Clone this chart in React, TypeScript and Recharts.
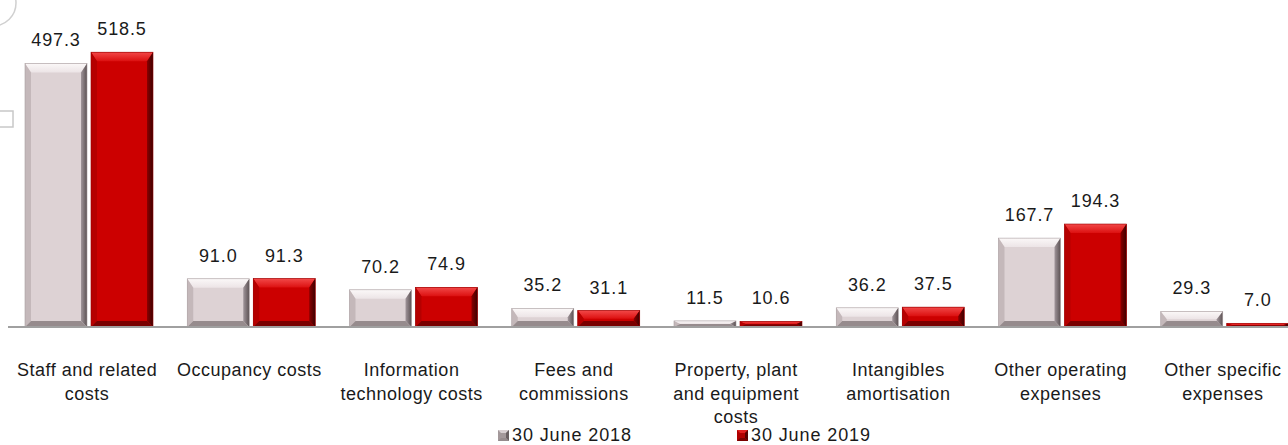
import { Bar, BarChart, LabelList, XAxis, YAxis } from 'recharts'

const categories = [
  'Staff and related\ncosts',
  'Occupancy costs',
  'Information\ntechnology costs',
  'Fees and\ncommissions',
  'Property, plant\nand equipment\ncosts',
  'Intangibles\namortisation',
  'Other operating\nexpenses',
  'Other specific\nexpenses',
]
const june2018 = [497.3, 91.0, 70.2, 35.2, 11.5, 36.2, 167.7, 29.3]
const june2019 = [518.5, 91.3, 74.9, 31.1, 10.6, 37.5, 194.3, 7.0]
const seriesNames = ['30 June 2018', '30 June 2019']

const chartData = categories.map((name, i) => ({
  name,
  a: june2018[i],
  b: june2019[i],
}))

const FONT = '"Liberation Sans", Arial, sans-serif'

const TONES = {
  gray: {
    body: '#ddd2d4',
    top: 'url(#grayTop)',
    left: '#c4b8ba',
    right: 'url(#grayRight)',
    bottom: '#968b8d',
    edge: '#a99ea0',
  },
  red: {
    body: '#cc0000',
    top: 'url(#redTop)',
    left: '#b50000',
    right: 'url(#redRight)',
    bottom: '#7a0000',
    edge: '#9a0000',
  },
}

function BevelBar(props: any) {
  const { x, y, width: w, height: h, tone } = props
  if (!h || h <= 0) return null
  const c = TONES[tone as 'gray' | 'red']
  const t = Math.min(9, h / 2)
  const bt = Math.min(6, h / 2)
  const s = Math.min(6, w / 2)
  return (
    <g>
      <rect x={x} y={y} width={w} height={h} fill={c.body} />
      <polygon
        points={`${x},${y} ${x + w},${y} ${x + w - s},${y + t} ${x + s},${y + t}`}
        fill={c.top}
      />
      <polygon
        points={`${x},${y} ${x + s},${y + t} ${x + s},${y + h - bt} ${x},${y + h}`}
        fill={c.left}
      />
      <polygon
        points={`${x + w},${y} ${x + w},${y + h} ${x + w - s},${y + h - bt} ${x + w - s},${y + t}`}
        fill={c.right}
      />
      <polygon
        points={`${x},${y + h} ${x + w},${y + h} ${x + w - s},${y + h - bt} ${x + s},${y + h - bt}`}
        fill={c.bottom}
      />
      <rect
        x={x}
        y={y}
        width={w}
        height={h}
        fill="none"
        stroke={c.edge}
        strokeWidth={0.6}
      />
    </g>
  )
}

function CategoryTick(props: any) {
  const { x, y, payload } = props
  const lines = String(payload.value).split('\n')
  return (
    <text
      x={x - 2}
      y={y}
      textAnchor="middle"
      fill="#1a1a1a"
      fontFamily={FONT}
      fontSize={18}
      letterSpacing={0.5}
    >
      {lines.map((line, i) => (
        <tspan key={i} x={x - 2} dy={i === 0 ? 41 : 23.5}>
          {line}
        </tspan>
      ))}
    </text>
  )
}

function LegendMark({ tone }: { tone: 'gray' | 'red' }) {
  const c = TONES[tone]
  return (
    <svg width={11} height={11} style={{ display: 'block' }}>
      <rect x={0} y={0} width={11} height={11} fill={tone === 'gray' ? '#a3989a' : '#b00000'} />
      <polygon points="0,0 11,0 8,3 3,3" fill={tone === 'gray' ? '#d8cfd1' : '#e02020'} />
      <polygon points="11,0 11,11 8,8 8,3" fill={tone === 'gray' ? '#6a6062' : '#5a0000'} />
      <polygon points="0,11 11,11 8,8 3,8" fill={c.bottom} />
    </svg>
  )
}

export default function App() {
  return (
    <div
      style={{
        position: 'absolute',
        left: 0,
        top: 0,
        width: 1288,
        height: 445,
        overflow: 'hidden',
        background: '#fff',
      }}
    >
      <BarChart
        width={1307}
        height={445}
        data={chartData}
        margin={{ top: 9, right: 1, left: 8, bottom: 0 }}
        barCategoryGap={17}
        barGap={4}
      >
        <defs>
          <linearGradient id="grayTop" x1="0" y1="0" x2="0" y2="1">
            <stop offset="0%" stopColor="#fbf8f8" />
            <stop offset="100%" stopColor="#ece4e6" />
          </linearGradient>
          <linearGradient id="grayRight" x1="0" y1="0" x2="1" y2="0">
            <stop offset="0%" stopColor="#a0959a" />
            <stop offset="100%" stopColor="#5c5254" />
          </linearGradient>
          <linearGradient id="redTop" x1="0" y1="0" x2="0" y2="1">
            <stop offset="0%" stopColor="#f24848" />
            <stop offset="100%" stopColor="#dc1010" />
          </linearGradient>
          <linearGradient id="redRight" x1="0" y1="0" x2="1" y2="0">
            <stop offset="0%" stopColor="#8a0000" />
            <stop offset="100%" stopColor="#3e0000" />
          </linearGradient>
        </defs>
        <XAxis
          dataKey="name"
          height={118}
          axisLine={{ stroke: '#a0a0a0', strokeWidth: 2 }}
          tickLine={false}
          interval={0}
          tick={<CategoryTick />}
        />
        <YAxis hide domain={[0, 600]} />
        <Bar
          dataKey="a"
          name={seriesNames[0]}
          isAnimationActive={false}
          shape={(p: any) => <BevelBar {...p} tone="gray" />}
        >
          <LabelList
            dataKey="a"
            position="top"
            offset={17}
            formatter={(v: any) => Number(v).toFixed(1)}
            style={{ fill: '#1a1a1a', fontFamily: FONT, fontSize: 18, letterSpacing: 0.9 }}
          />
        </Bar>
        <Bar
          dataKey="b"
          name={seriesNames[1]}
          isAnimationActive={false}
          shape={(p: any) => <BevelBar {...p} tone="red" />}
        >
          <LabelList
            dataKey="b"
            position="top"
            offset={17}
            formatter={(v: any) => Number(v).toFixed(1)}
            style={{ fill: '#1a1a1a', fontFamily: FONT, fontSize: 18, letterSpacing: 0.9 }}
          />
        </Bar>
      </BarChart>

      <svg
        width={40}
        height={140}
        style={{ position: 'absolute', left: 0, top: 0, pointerEvents: 'none' }}
      >
        <circle cx={-7} cy={3} r={23} fill="none" stroke="#d0d0d0" strokeWidth={1.5} />
        <rect x={-2} y={111} width={15} height={16} fill="none" stroke="#c8c8c8" strokeWidth={1.5} />
      </svg>

      {[
        { tone: 'gray' as const, left: 498 },
        { tone: 'red' as const, left: 737 },
      ].map((item, i) => (
        <div
          key={i}
          style={{
            position: 'absolute',
            left: item.left,
            top: 424,
            display: 'flex',
            alignItems: 'center',
            gap: 3,
            fontFamily: FONT,
            fontSize: 18,
            letterSpacing: 0.9,
            color: '#1a1a1a',
            lineHeight: '22px',
            whiteSpace: 'nowrap',
          }}
        >
          <LegendMark tone={item.tone} />
          <span>{seriesNames[i]}</span>
        </div>
      ))}
    </div>
  )
}
